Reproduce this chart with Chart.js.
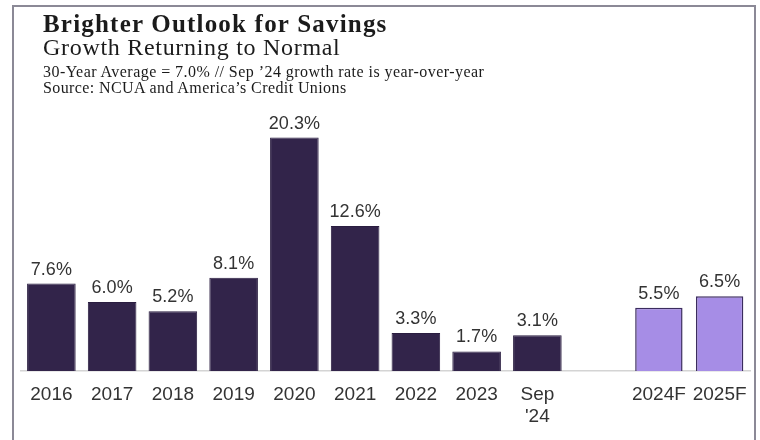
<!doctype html>
<html lang="en">
<head>
    <meta charset="utf-8">
    <title>Brighter Outlook for Savings</title>
    <style>
        body { margin: 0; background: #fff; }
        #wrap { position: relative; width: 760px; height: 440px; overflow: hidden; }
        #frame {
            position: absolute; left: 12px; top: 5px; width: 744px; height: 460px;
            border: 2px solid #8b8996; box-sizing: border-box;
        }
        .txt { position: absolute; left: 43px; color: #1b1b1b; white-space: nowrap; font-family: "Liberation Serif", serif; }
        #t1 { top: 11px; font-size: 25px; line-height: 25px; font-weight: bold; letter-spacing: 1.2px; }
        #t2 { top: 35px; font-size: 24px; line-height: 24px; letter-spacing: 0.7px; }
        #t3 { top: 64px; font-size: 16px; line-height: 16px; letter-spacing: 0.45px; }
        #t4 { top: 80px; font-size: 16px; line-height: 16px; letter-spacing: 0.4px; }
        #chartBox { position: absolute; left: 0; top: 0; width: 760px; height: 440px; }
    </style>
</head>
<body>
<div id="wrap">
    <div id="frame"></div>
    <div id="chartBox"><canvas id="myChart" width="760" height="440"></canvas></div>
    <div class="txt" id="t1">Brighter Outlook for Savings</div>
    <div class="txt" id="t2">Growth Returning to Normal</div>
    <div class="txt" id="t3">30-Year Average = 7.0% // Sep ’24 growth rate is year-over-year</div>
    <div class="txt" id="t4">Source: NCUA and America’s Credit Unions</div>
</div>

<script src="https://cdn.jsdelivr.net/npm/chart.js@4.4.1/dist/chart.umd.min.js"></script>
<script>
    // actual savings growth, %
    let years = ['2016', '2017', '2018', '2019', '2020', '2021', '2022', '2023', ['Sep', "'24"]];
    let growth = [7.6, 6.0, 5.2, 8.1, 20.3, 12.6, 3.3, 1.7, 3.1];

    // forecast years
    let forecastYears = ['2024F', '2025F'];
    let forecastGrowth = [5.5, 6.5];

    // one blank slot between actuals and forecasts
    let labels = [...years, '', ...forecastYears];
    let actualData = [...growth, null, ...forecastGrowth.map(() => null)];
    let forecastData = [...growth.map(() => null), null, ...forecastGrowth];

    // draws "x.x%" above each bar
    const valueLabels = {
        id: 'valueLabels',
        afterDatasetsDraw(chart) {
            let ctx = chart.ctx;
            ctx.save();
            ctx.font = '18px "Liberation Sans", Arial, sans-serif';
            ctx.fillStyle = '#333333';
            ctx.textAlign = 'center';
            ctx.textBaseline = 'alphabetic';
            chart.data.datasets.forEach((ds, i) => {
                chart.getDatasetMeta(i).data.forEach((bar, j) => {
                    let v = ds.data[j];
                    if (v == null) return;
                    ctx.fillText(v.toFixed(1) + '%', bar.x, bar.y - 9);
                });
            });
            ctx.restore();
        }
    };

    let ctx = document.getElementById('myChart').getContext('2d');
    let myChart = new Chart(ctx, {
        type: 'bar',
        data: {
            labels: labels,
            datasets: [{
                data: actualData,
                backgroundColor: '#32244a',
                borderColor: '#2a1d40',
                borderWidth: 1,
                grouped: false,
                barPercentage: 0.8,
                categoryPercentage: 1
            }, {
                data: forecastData,
                backgroundColor: '#a68de6',
                borderColor: '#3b2c5e',
                borderWidth: 1.5,
                grouped: false,
                barPercentage: 0.78,
                categoryPercentage: 1
            }]
        },
        options: {
            responsive: false,
            animation: false,
            layout: { padding: { left: 21, right: 10, top: 118, bottom: 0 } },
            plugins: {
                legend: { display: false },
                tooltip: { enabled: false }
            },
            scales: {
                x: {
                    grid: { display: false, drawTicks: false },
                    border: { display: true, color: '#d4d4d4', width: 1.5 },
                    ticks: {
                        color: '#333333',
                        font: { family: '"Liberation Sans", Arial, sans-serif', size: 19 },
                        padding: 12,
                        maxRotation: 0,
                        autoSkip: false
                    },
                    afterFit: s => { s.height = 69; }
                },
                y: {
                    display: false,
                    min: 0,
                    max: 22
                }
            }
        },
        plugins: [valueLabels]
    });
</script>
</body>
</html>
